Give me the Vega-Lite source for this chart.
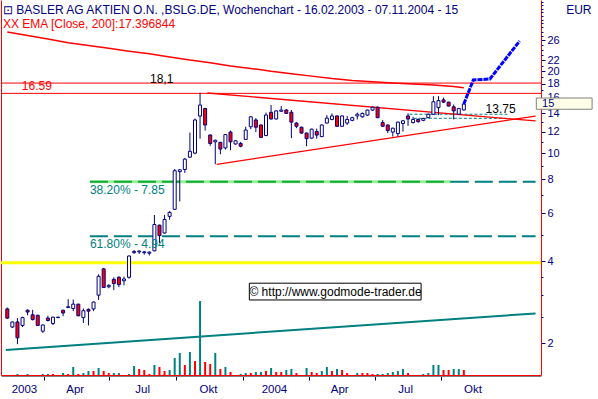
{
"$schema": "https://vega.github.io/schema/vega-lite/v6.json",
"width": 540, "height": 375,
"autosize": {"type": "none"},
"padding": {"left": 1, "top": 0, "right": 57, "bottom": 24},
"background": "white",
"config": {"view": {"stroke": null}, "text": {"font": "Liberation Sans", "fontSize": 12}},
"title": {"text": "⊡ BASLER AG AKTIEN O.N. ,BSLG.DE, Wochenchart - 16.02.2003 - 07.11.2004 - 15", "subtitle": "XX EMA [Close, 200]:17.396844", "anchor": "start", "frame": "group", "orient": "top", "offset": -31, "font": "Liberation Sans", "fontSize": 12, "fontWeight": "normal", "color": "#000080", "subtitleFont": "Liberation Sans", "subtitleFontSize": 12, "subtitleColor": "#FF0000", "subtitlePadding": 2, "dx": 2},
"datasets": {
"k": [
{"d":"2003-02-10","o":2.67,"h":2.70,"l":2.45,"c":2.47,"v":0,"vd":"u"},
{"d":"2003-02-17","o":2.29,"h":2.40,"l":2.27,"c":2.39,"v":0,"vd":"u"},
{"d":"2003-02-24","o":2.39,"h":2.47,"l":1.98,"c":2.09,"v":1,"vd":"u"},
{"d":"2003-03-03","o":2.32,"h":2.50,"l":2.29,"c":2.48,"v":0,"vd":"u"},
{"d":"2003-03-10","o":2.64,"h":2.66,"l":2.53,"c":2.60,"v":1,"vd":"u"},
{"d":"2003-03-17","o":2.54,"h":2.65,"l":2.42,"c":2.44,"v":0,"vd":"u"},
{"d":"2003-03-24","o":2.53,"h":2.54,"l":2.31,"c":2.32,"v":0,"vd":"u"},
{"d":"2003-03-31","o":2.21,"h":2.34,"l":2.18,"c":2.33,"v":1,"vd":"u"},
{"d":"2003-04-07","o":2.47,"h":2.52,"l":2.40,"c":2.42,"v":1,"vd":"u"},
{"d":"2003-04-14","o":2.36,"h":2.50,"l":2.33,"c":2.49,"v":1,"vd":"d"},
{"d":"2003-04-21","o":2.48,"h":2.50,"l":2.47,"c":2.49,"v":0,"vd":"u"},
{"d":"2003-04-28","o":2.64,"h":2.65,"l":2.51,"c":2.58,"v":2,"vd":"u"},
{"d":"2003-05-05","o":2.70,"h":2.90,"l":2.69,"c":2.72,"v":1,"vd":"d"},
{"d":"2003-05-12","o":2.68,"h":2.89,"l":2.62,"c":2.78,"v":8,"vd":"u"},
{"d":"2003-05-19","o":2.78,"h":2.79,"l":2.51,"c":2.52,"v":1,"vd":"d"},
{"d":"2003-05-26","o":2.48,"h":2.68,"l":2.37,"c":2.63,"v":2,"vd":"u"},
{"d":"2003-06-02","o":2.66,"h":2.68,"l":2.32,"c":2.62,"v":4,"vd":"u"},
{"d":"2003-06-09","o":2.67,"h":2.84,"l":2.62,"c":2.83,"v":4,"vd":"d"},
{"d":"2003-06-16","o":3.00,"h":3.58,"l":2.88,"c":3.52,"v":7,"vd":"u"},
{"d":"2003-06-23","o":3.75,"h":3.78,"l":3.19,"c":3.20,"v":4,"vd":"d"},
{"d":"2003-06-30","o":3.22,"h":3.29,"l":3.18,"c":3.26,"v":2,"vd":"d"},
{"d":"2003-07-07","o":3.43,"h":3.49,"l":3.13,"c":3.31,"v":2,"vd":"u"},
{"d":"2003-07-14","o":3.49,"h":3.52,"l":3.21,"c":3.28,"v":2,"vd":"u"},
{"d":"2003-07-21","o":3.39,"h":3.51,"l":3.26,"c":3.44,"v":0,"vd":"u"},
{"d":"2003-07-28","o":3.49,"h":4.20,"l":3.45,"c":4.18,"v":1,"vd":"u"},
{"d":"2003-08-04","o":4.30,"h":4.40,"l":4.26,"c":4.34,"v":9,"vd":"u"},
{"d":"2003-08-11","o":4.33,"h":4.38,"l":4.25,"c":4.36,"v":6,"vd":"d"},
{"d":"2003-08-18","o":4.30,"h":4.36,"l":4.23,"c":4.33,"v":5,"vd":"d"},
{"d":"2003-08-25","o":4.28,"h":4.35,"l":4.20,"c":4.32,"v":1,"vd":"d"},
{"d":"2003-09-01","o":4.37,"h":5.92,"l":4.35,"c":5.46,"v":10,"vd":"u"},
{"d":"2003-09-08","o":5.43,"h":5.45,"l":4.67,"c":4.97,"v":8,"vd":"d"},
{"d":"2003-09-15","o":5.08,"h":5.92,"l":5.05,"c":5.70,"v":4,"vd":"d"},
{"d":"2003-09-22","o":5.85,"h":6.12,"l":5.68,"c":6.05,"v":5,"vd":"u"},
{"d":"2003-09-29","o":6.21,"h":8.74,"l":6.18,"c":8.61,"v":17,"vd":"u"},
{"d":"2003-10-06","o":8.55,"h":8.72,"l":6.64,"c":8.68,"v":22,"vd":"u"},
{"d":"2003-10-13","o":8.70,"h":9.60,"l":8.45,"c":9.50,"v":10,"vd":"d"},
{"d":"2003-10-20","o":9.66,"h":11.9,"l":9.60,"c":10.15,"v":23,"vd":"u"},
{"d":"2003-10-27","o":10.0,"h":13.4,"l":9.90,"c":13.24,"v":14,"vd":"d"},
{"d":"2003-11-03","o":13.69,"h":16.68,"l":11.3,"c":15.03,"v":74,"vd":"u"},
{"d":"2003-11-10","o":14.6,"h":14.65,"l":12.1,"c":12.69,"v":13,"vd":"d"},
{"d":"2003-11-17","o":11.66,"h":11.7,"l":10.64,"c":10.85,"v":11,"vd":"d"},
{"d":"2003-11-24","o":11.0,"h":11.2,"l":9.10,"c":11.15,"v":22,"vd":"u"},
{"d":"2003-12-01","o":10.95,"h":11.0,"l":9.90,"c":10.35,"v":6,"vd":"d"},
{"d":"2003-12-08","o":10.45,"h":11.75,"l":10.3,"c":11.7,"v":8,"vd":"u"},
{"d":"2003-12-15","o":11.95,"h":12.1,"l":10.25,"c":11.0,"v":3,"vd":"d"},
{"d":"2003-12-22","o":10.8,"h":11.15,"l":10.75,"c":11.1,"v":0,"vd":"u"},
{"d":"2003-12-29","o":10.85,"h":11.0,"l":10.5,"c":10.6,"v":1,"vd":"u"},
{"d":"2004-01-05","o":11.23,"h":12.5,"l":11.2,"c":12.16,"v":2,"vd":"u"},
{"d":"2004-01-12","o":12.5,"h":13.65,"l":12.25,"c":13.6,"v":2,"vd":"d"},
{"d":"2004-01-19","o":13.24,"h":13.45,"l":11.95,"c":12.45,"v":3,"vd":"u"},
{"d":"2004-01-26","o":12.69,"h":12.75,"l":11.4,"c":11.42,"v":3,"vd":"u"},
{"d":"2004-02-02","o":11.6,"h":14.1,"l":11.55,"c":13.81,"v":4,"vd":"d"},
{"d":"2004-02-09","o":14.13,"h":15.03,"l":13.3,"c":13.35,"v":7,"vd":"u"},
{"d":"2004-02-16","o":13.35,"h":14.35,"l":13.3,"c":14.3,"v":3,"vd":"d"},
{"d":"2004-02-23","o":14.25,"h":14.9,"l":14.2,"c":14.4,"v":3,"vd":"d"},
{"d":"2004-03-01","o":14.41,"h":14.5,"l":13.95,"c":14.0,"v":5,"vd":"u"},
{"d":"2004-03-08","o":14.13,"h":14.41,"l":11.35,"c":13.0,"v":6,"vd":"u"},
{"d":"2004-03-15","o":12.9,"h":13.0,"l":12.35,"c":12.55,"v":2,"vd":"d"},
{"d":"2004-03-22","o":12.45,"h":12.5,"l":11.8,"c":11.85,"v":0,"vd":"u"},
{"d":"2004-03-29","o":11.85,"h":11.9,"l":10.6,"c":11.3,"v":7,"vd":"u"},
{"d":"2004-04-05","o":11.35,"h":12.3,"l":11.3,"c":12.25,"v":3,"vd":"d"},
{"d":"2004-04-12","o":12.0,"h":12.3,"l":11.3,"c":11.65,"v":2,"vd":"d"},
{"d":"2004-04-19","o":11.5,"h":12.75,"l":11.45,"c":12.69,"v":4,"vd":"u"},
{"d":"2004-04-26","o":12.9,"h":13.8,"l":12.85,"c":13.45,"v":8,"vd":"u"},
{"d":"2004-05-03","o":13.3,"h":14.0,"l":13.2,"c":13.7,"v":4,"vd":"d"},
{"d":"2004-05-10","o":13.7,"h":13.75,"l":12.5,"c":12.55,"v":6,"vd":"u"},
{"d":"2004-05-17","o":12.55,"h":13.75,"l":12.5,"c":13.7,"v":5,"vd":"d"},
{"d":"2004-05-24","o":12.9,"h":13.7,"l":12.7,"c":13.3,"v":2,"vd":"d"},
{"d":"2004-05-31","o":13.2,"h":13.6,"l":13.1,"c":13.5,"v":0,"vd":"u"},
{"d":"2004-06-07","o":13.7,"h":14.1,"l":13.3,"c":13.9,"v":2,"vd":"u"},
{"d":"2004-06-14","o":13.6,"h":14.1,"l":13.5,"c":14.0,"v":2,"vd":"d"},
{"d":"2004-06-21","o":13.8,"h":14.45,"l":13.7,"c":14.4,"v":2,"vd":"d"},
{"d":"2004-06-28","o":14.4,"h":14.85,"l":14.3,"c":14.75,"v":1,"vd":"d"},
{"d":"2004-07-05","o":14.75,"h":14.85,"l":13.45,"c":13.5,"v":1,"vd":"u"},
{"d":"2004-07-12","o":12.95,"h":13.24,"l":12.5,"c":12.55,"v":1,"vd":"u"},
{"d":"2004-07-19","o":12.69,"h":12.75,"l":11.85,"c":12.1,"v":2,"vd":"u"},
{"d":"2004-07-26","o":11.95,"h":12.4,"l":11.5,"c":12.35,"v":3,"vd":"u"},
{"d":"2004-08-02","o":11.8,"h":13.05,"l":11.5,"c":13.0,"v":4,"vd":"u"},
{"d":"2004-08-09","o":12.85,"h":13.2,"l":12.0,"c":13.15,"v":6,"vd":"u"},
{"d":"2004-08-16","o":13.7,"h":14.0,"l":12.6,"c":13.35,"v":2,"vd":"d"},
{"d":"2004-08-23","o":12.95,"h":13.6,"l":12.85,"c":13.3,"v":0,"vd":"u"},
{"d":"2004-08-30","o":13.3,"h":13.4,"l":12.95,"c":13.05,"v":0,"vd":"u"},
{"d":"2004-09-06","o":13.2,"h":13.5,"l":13.1,"c":13.4,"v":1,"vd":"u"},
{"d":"2004-09-13","o":13.5,"h":14.0,"l":13.45,"c":13.9,"v":2,"vd":"u"},
{"d":"2004-09-20","o":13.9,"h":16.2,"l":13.85,"c":15.45,"v":10,"vd":"u"},
{"d":"2004-09-27","o":14.7,"h":16.2,"l":13.8,"c":15.6,"v":10,"vd":"u"},
{"d":"2004-10-04","o":15.7,"h":16.0,"l":15.3,"c":15.4,"v":5,"vd":"d"},
{"d":"2004-10-11","o":15.4,"h":15.45,"l":14.85,"c":14.9,"v":5,"vd":"d"},
{"d":"2004-10-18","o":14.8,"h":15.1,"l":13.3,"c":14.3,"v":6,"vd":"u"},
{"d":"2004-10-25","o":13.9,"h":14.65,"l":13.85,"c":14.6,"v":6,"vd":"u"},
{"d":"2004-11-01","o":14.41,"h":15.3,"l":14.35,"c":15.15,"v":5,"vd":"d"}
],
"ema": [
{"d":"2003-02-10","v":27.9},{"d":"2003-03-10","v":27.1},{"d":"2003-04-07","v":26.3},{"d":"2003-05-05","v":25.5},{"d":"2003-06-02","v":24.9},{"d":"2003-06-30","v":24.3},{"d":"2003-07-28","v":23.7},{"d":"2003-08-25","v":23.2},{"d":"2003-09-22","v":22.6},{"d":"2003-10-20","v":22.0},{"d":"2003-11-17","v":21.5},{"d":"2003-12-15","v":20.9},{"d":"2004-01-12","v":20.5},{"d":"2004-02-09","v":20.0},{"d":"2004-03-08","v":19.6},{"d":"2004-04-05","v":19.2},{"d":"2004-05-03","v":18.8},{"d":"2004-05-31","v":18.5},{"d":"2004-06-28","v":18.3},{"d":"2004-07-26","v":18.1},{"d":"2004-08-23","v":17.96},{"d":"2004-09-20","v":17.8},{"d":"2004-10-18","v":17.6},{"d":"2004-11-01","v":17.4}
],
"tri": [
{"d":"2003-11-13","v":16.64,"g":"upper"},{"d":"2005-02-08","v":13.13,"g":"upper"},
{"d":"2003-11-26","v":9.09,"g":"lower"},{"d":"2005-02-08","v":13.69,"g":"lower"}
],
"trend": [{"d":"2003-02-08","v":1.885},{"d":"2005-02-08","v":2.57}],
"proj": [{"d":"2004-11-01","v":15.16},{"d":"2004-11-14","v":18.58},{"d":"2004-12-07","v":18.74},{"d":"2005-01-17","v":25.86}]
},
"resolve": {"scale": {"y": "independent"}, "axis": {"x": "independent", "y": "independent"}},
"layer": [
{
 "data": {"name": "k"},
 "mark": {"type": "bar", "size": 2},
 "encoding": {
  "x": {"field": "d", "type": "temporal", "scale": {"type": "utc", "nice": false, "domain": [{"year":2003,"month":2,"date":8,"hours":5,"utc":true},{"year":2005,"month":2,"date":8,"hours":14,"utc":true}]},
   "axis": {"orient": "bottom", "title": null, "labels": false, "grid": false, "tickSize": 4, "tickColor": "#000080", "domainColor": "#808080", "offset": 1,
    "values": [{"year":2003,"month":4,"date":1,"utc":true},{"year":2003,"month":7,"date":1,"utc":true},{"year":2003,"month":10,"date":1,"utc":true},{"year":2004,"month":1,"date":1,"utc":true},{"year":2004,"month":4,"date":1,"utc":true},{"year":2004,"month":7,"date":1,"utc":true},{"year":2004,"month":10,"date":1,"utc":true}]}},
  "y": {"field": "v", "type": "quantitative", "scale": {"domain": [0, 375], "nice": false, "zero": true}, "axis": {"orient": "left", "title": null, "labels": false, "ticks": false, "grid": false, "domainColor": "#FF0000"}},
  "color": {"field": "vd", "type": "nominal", "scale": {"domain": ["u","d"], "range": ["#008080","#FF0000"]}, "legend": null}
 }
},
{
 "resolve": {"axis": {"y": "independent"}},
 "layer": [
  {"mark": {"type": "rule", "color": "#FFFF00", "strokeWidth": 3}, "data": {"values": [{"v": 3.95}]},
   "encoding": {"y": {"field": "v", "type": "quantitative", "scale": {"type": "log", "nice": false, "domain": [1.525, 36.6]}, "axis": null}}},
  {"mark": {"type": "rule", "color": "#FF0000", "strokeWidth": 1}, "data": {"values": [{"v": 16.59}, {"v": 18.1}]},
   "encoding": {"y": {"field": "v", "type": "quantitative", "scale": {"type": "log", "nice": false, "domain": [1.525, 36.6]}, "axis": null}}},
  {"mark": {"type": "rule", "color": "#99EE99", "strokeWidth": 3}, "data": {"values": [{"d1": "2003-06-04", "d2": "2004-10-14", "v": 7.85}]},
   "encoding": {"x": {"field": "d1", "type": "temporal", "scale": {"type": "utc", "nice": false, "domain": [{"year":2003,"month":2,"date":8,"hours":5,"utc":true},{"year":2005,"month":2,"date":8,"hours":14,"utc":true}]}}, "x2": {"field": "d2"},
    "y": {"field": "v", "type": "quantitative", "scale": {"type": "log", "nice": false, "domain": [1.525, 36.6]}, "axis": null}}},
  {"mark": {"type": "rule", "color": "#11AA33", "strokeWidth": 2, "strokeDash": [18, 6]}, "data": {"values": [{"d1": "2003-06-04", "d2": "2004-10-14", "v": 7.85}]},
   "encoding": {"x": {"field": "d1", "type": "temporal", "scale": {"type": "utc", "nice": false, "domain": [{"year":2003,"month":2,"date":8,"hours":5,"utc":true},{"year":2005,"month":2,"date":8,"hours":14,"utc":true}]}}, "x2": {"field": "d2"},
    "y": {"field": "v", "type": "quantitative", "scale": {"type": "log", "nice": false, "domain": [1.525, 36.6]}, "axis": null}}},
  {"mark": {"type": "rule", "color": "#008080", "strokeWidth": 2, "strokeDash": [18, 6]}, "data": {"values": [{"d1": "2004-10-14", "d2": "2005-02-08", "v": 7.85}, {"d1": "2003-06-04", "d2": "2005-02-08", "v": 4.94}]},
   "encoding": {"x": {"field": "d1", "type": "temporal", "scale": {"type": "utc", "nice": false, "domain": [{"year":2003,"month":2,"date":8,"hours":5,"utc":true},{"year":2005,"month":2,"date":8,"hours":14,"utc":true}]}}, "x2": {"field": "d2"},
    "y": {"field": "v", "type": "quantitative", "scale": {"type": "log", "nice": false, "domain": [1.525, 36.6]}, "axis": null}}},
  {"mark": {"type": "rule", "color": "#008080", "strokeWidth": 1, "strokeDash": [3, 2]}, "data": {"values": [{"d1": "2004-08-18", "d2": "2004-12-31", "v": 13.9}, {"d1": "2004-08-24", "d2": "2004-12-31", "v": 13.43}]},
   "encoding": {"x": {"field": "d1", "type": "temporal", "scale": {"type": "utc", "nice": false, "domain": [{"year":2003,"month":2,"date":8,"hours":5,"utc":true},{"year":2005,"month":2,"date":8,"hours":14,"utc":true}]}}, "x2": {"field": "d2"},
    "y": {"field": "v", "type": "quantitative", "scale": {"type": "log", "nice": false, "domain": [1.525, 36.6]}, "axis": null}}},
  {"mark": {"type": "line", "color": "#008080", "strokeWidth": 2}, "data": {"name": "trend"},
   "encoding": {"x": {"field": "d", "type": "temporal", "scale": {"type": "utc", "nice": false, "domain": [{"year":2003,"month":2,"date":8,"hours":5,"utc":true},{"year":2005,"month":2,"date":8,"hours":14,"utc":true}]}},
    "y": {"field": "v", "type": "quantitative", "scale": {"type": "log", "nice": false, "domain": [1.525, 36.6]}, "axis": null}}},
  {"mark": {"type": "line", "color": "#FF0000", "strokeWidth": 1.5}, "data": {"name": "ema"},
   "encoding": {"x": {"field": "d", "type": "temporal", "scale": {"type": "utc", "nice": false, "domain": [{"year":2003,"month":2,"date":8,"hours":5,"utc":true},{"year":2005,"month":2,"date":8,"hours":14,"utc":true}]}},
    "y": {"field": "v", "type": "quantitative", "scale": {"type": "log", "nice": false, "domain": [1.525, 36.6]}, "axis": null}}},
  {"mark": {"type": "line", "color": "#FF0000", "strokeWidth": 1.3}, "data": {"name": "tri"},
   "encoding": {"x": {"field": "d", "type": "temporal", "scale": {"type": "utc", "nice": false, "domain": [{"year":2003,"month":2,"date":8,"hours":5,"utc":true},{"year":2005,"month":2,"date":8,"hours":14,"utc":true}]}},
    "y": {"field": "v", "type": "quantitative", "scale": {"type": "log", "nice": false, "domain": [1.525, 36.6]}, "axis": null}, "detail": {"field": "g"}}},
  {"mark": {"type": "rect", "fill": "white", "stroke": "black", "strokeWidth": 1}, "data": {"values": [{"d1": "2004-01-10", "d2": "2004-09-03", "v1": 2.88, "v2": 3.32}]},
   "encoding": {"x": {"field": "d1", "type": "temporal", "scale": {"type": "utc", "nice": false, "domain": [{"year":2003,"month":2,"date":8,"hours":5,"utc":true},{"year":2005,"month":2,"date":8,"hours":14,"utc":true}]}}, "x2": {"field": "d2"},
    "y": {"field": "v1", "type": "quantitative", "scale": {"type": "log", "nice": false, "domain": [1.525, 36.6]}, "axis": null}, "y2": {"field": "v2"}}},
  {"mark": {"type": "text", "color": "black", "align": "center", "baseline": "middle", "fontSize": 12}, "data": {"values": [{"d": "2004-05-08", "v": 3.09, "t": "© http://www.godmode-trader.de"}]},
   "encoding": {"x": {"field": "d", "type": "temporal", "scale": {"type": "utc", "nice": false, "domain": [{"year":2003,"month":2,"date":8,"hours":5,"utc":true},{"year":2005,"month":2,"date":8,"hours":14,"utc":true}]}},
    "y": {"field": "v", "type": "quantitative", "scale": {"type": "log", "nice": false, "domain": [1.525, 36.6]}, "axis": null}, "text": {"field": "t"}}},
  {"mark": {"type": "rule", "color": "#000080", "strokeWidth": 1}, "data": {"name": "k"},
   "encoding": {"x": {"field": "d", "type": "temporal", "scale": {"type": "utc", "nice": false, "domain": [{"year":2003,"month":2,"date":8,"hours":5,"utc":true},{"year":2005,"month":2,"date":8,"hours":14,"utc":true}]},
     "axis": {"orient": "bottom", "title": null, "ticks": false, "grid": false, "domainColor": "#FF0000", "labelColor": "#000080", "labelFont": "Liberation Sans", "labelFontSize": 11.5, "labelPadding": 8, "labelOverlap": false, "labelFlush": false,
      "values": [{"year":2003,"month":3,"date":5,"utc":true},{"year":2003,"month":5,"date":14,"utc":true},{"year":2003,"month":8,"date":15,"utc":true},{"year":2003,"month":11,"date":14,"utc":true},{"year":2004,"month":2,"date":13,"utc":true},{"year":2004,"month":5,"date":13,"utc":true},{"year":2004,"month":8,"date":12,"utc":true},{"year":2004,"month":11,"date":13,"utc":true}],
      "labelExpr": "utcmonth(datum.value) < 3 ? utcyear(datum.value) + '' : utcmonth(datum.value) == 4 ? 'Apr' : utcmonth(datum.value) == 7 ? 'Jul' : 'Okt'"}},
    "y": {"field": "l", "type": "quantitative", "scale": {"type": "log", "nice": false, "domain": [1.525, 36.6]},
     "axis": {"orient": "right", "title": "EUR", "titleAngle": 0, "titleX": 50, "titleY": 9, "titleAlign": "right", "titleBaseline": "middle", "titleColor": "#000080", "titleFont": "Liberation Sans", "titleFontSize": 12, "titleFontWeight": "normal",
      "values": [2,4,6,8,10,12,14,16,18,20,22,26], "format": "d", "tickSize": 4, "tickColor": "#000080", "labelColor": "#000080", "labelFont": "Liberation Sans", "labelFontSize": 11, "labelPadding": 2, "labelOverlap": false, "domainColor": "#FF0000", "grid": false}},
    "y2": {"field": "h"}}},
  {"mark": {"type": "bar", "size": 3, "stroke": "#000080", "strokeWidth": 1}, "data": {"name": "k"},
   "encoding": {"x": {"field": "d", "type": "temporal", "scale": {"type": "utc", "nice": false, "domain": [{"year":2003,"month":2,"date":8,"hours":5,"utc":true},{"year":2005,"month":2,"date":8,"hours":14,"utc":true}]}},
    "y": {"field": "o", "type": "quantitative", "scale": {"type": "log", "nice": false, "domain": [1.525, 36.6]},
     "axis": {"orient": "right", "title": null, "labels": false, "domain": false, "grid": false, "tickSize": 2, "tickColor": "#000080", "values": [2.5,3,3.5,5,7,9,11,13,17,19,21,23,24,25,27,28,29,30,31,32,33,34,35,36]}},
    "y2": {"field": "c"},
    "fill": {"condition": {"test": "datum.c < datum.o", "value": "#FF0000"}, "value": "#FFFFFF"}}},
  {"mark": {"type": "line", "color": "#0000FF", "strokeWidth": 3, "strokeDash": [5, 1]}, "data": {"name": "proj"},
   "encoding": {"x": {"field": "d", "type": "temporal", "scale": {"type": "utc", "nice": false, "domain": [{"year":2003,"month":2,"date":8,"hours":5,"utc":true},{"year":2005,"month":2,"date":8,"hours":14,"utc":true}]}},
    "y": {"field": "v", "type": "quantitative", "scale": {"type": "log", "nice": false, "domain": [1.525, 36.6]}, "axis": null}}},
  {"mark": {"type": "text", "align": "left", "baseline": "bottom", "fontSize": 12}, "data": {"values": [
     {"d": "2003-03-02", "v": 16.59, "t": "16.59", "col": "#FF0000"},
     {"d": "2004-12-01", "v": 13.75, "t": "13.75", "col": "#000000"}]},
   "encoding": {"x": {"field": "d", "type": "temporal", "scale": {"type": "utc", "nice": false, "domain": [{"year":2003,"month":2,"date":8,"hours":5,"utc":true},{"year":2005,"month":2,"date":8,"hours":14,"utc":true}]}},
    "y": {"field": "v", "type": "quantitative", "scale": {"type": "log", "nice": false, "domain": [1.525, 36.6]}, "axis": null}, "text": {"field": "t"}, "color": {"field": "col", "type": "nominal", "scale": null}}},
  {"mark": {"type": "text", "align": "center", "baseline": "bottom", "fontSize": 12, "dy": 3, "color": "#000000"}, "data": {"values": [{"d": "2003-09-11", "v": 18.1, "t": "18,1"}]},
   "encoding": {"x": {"field": "d", "type": "temporal", "scale": {"type": "utc", "nice": false, "domain": [{"year":2003,"month":2,"date":8,"hours":5,"utc":true},{"year":2005,"month":2,"date":8,"hours":14,"utc":true}]}},
    "y": {"field": "v", "type": "quantitative", "scale": {"type": "log", "nice": false, "domain": [1.525, 36.6]}, "axis": null}, "text": {"field": "t"}}},
  {"mark": {"type": "text", "align": "left", "baseline": "top", "fontSize": 12, "dy": 3, "color": "#008080"}, "data": {"values": [{"d": "2003-06-04", "v": 7.85, "t": "38.20% - 7.85"}, {"d": "2003-06-04", "v": 4.94, "t": "61.80% - 4.94"}]},
   "encoding": {"x": {"field": "d", "type": "temporal", "scale": {"type": "utc", "nice": false, "domain": [{"year":2003,"month":2,"date":8,"hours":5,"utc":true},{"year":2005,"month":2,"date":8,"hours":14,"utc":true}]}},
    "y": {"field": "v", "type": "quantitative", "scale": {"type": "log", "nice": false, "domain": [1.525, 36.6]}, "axis": null}, "text": {"field": "t"}}},
  {"mark": {"type": "rect", "fill": "#FFFFE8", "stroke": "#808080", "strokeWidth": 1}, "data": {"values": [{"d1": "2005-02-09", "d2": "2005-04-27", "v1": 14.5, "v2": 15.95}]},
   "encoding": {"x": {"field": "d1", "type": "temporal", "scale": {"type": "utc", "nice": false, "domain": [{"year":2003,"month":2,"date":8,"hours":5,"utc":true},{"year":2005,"month":2,"date":8,"hours":14,"utc":true}]}}, "x2": {"field": "d2"},
    "y": {"field": "v1", "type": "quantitative", "scale": {"type": "log", "nice": false, "domain": [1.525, 36.6]}, "axis": null}, "y2": {"field": "v2"}}},
  {"mark": {"type": "text", "align": "left", "baseline": "middle", "fontSize": 11, "color": "#000080"}, "data": {"values": [{"d": "2005-02-17", "v": 15.2, "t": "15"}]},
   "encoding": {"x": {"field": "d", "type": "temporal", "scale": {"type": "utc", "nice": false, "domain": [{"year":2003,"month":2,"date":8,"hours":5,"utc":true},{"year":2005,"month":2,"date":8,"hours":14,"utc":true}]}},
    "y": {"field": "v", "type": "quantitative", "scale": {"type": "log", "nice": false, "domain": [1.525, 36.6]}, "axis": null}, "text": {"field": "t"}}}
 ]
}
]
}
